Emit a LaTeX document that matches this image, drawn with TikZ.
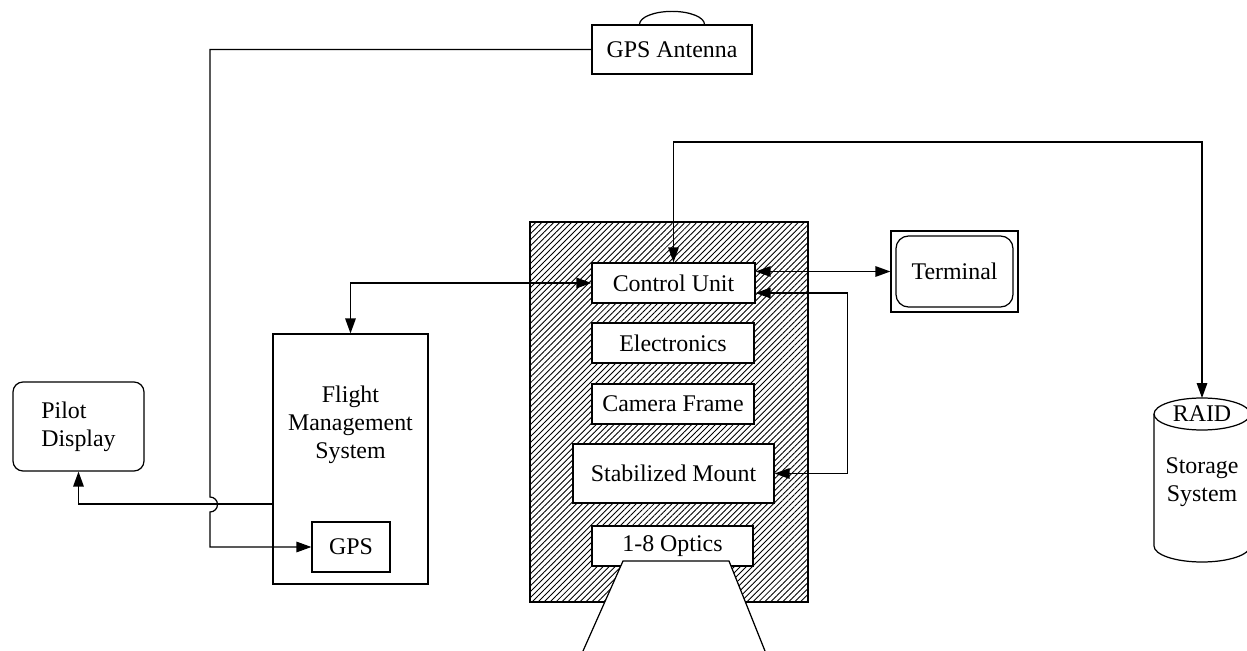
\documentclass[tikz,border=0pt]{standalone}
\usepackage{fontspec}
\setmainfont{Liberation Serif}
\usetikzlibrary{arrows.meta, patterns.meta}

\begin{document}
\begin{tikzpicture}[x=0.02cm, y=-0.02cm, line width=0.7pt,
    every node/.style={font=\fontsize{13.6}{16}\selectfont},
    box/.style={draw, fill=white, inner sep=0pt},
    wh/.style 2 args={minimum width=#1*0.02cm, minimum height=#2*0.02cm},
    tip/.style={-{Triangle[length=8.5pt, width=6pt]}},
    tips/.style={{Triangle[length=8.5pt, width=6pt]}-{Triangle[length=8.5pt, width=6pt]}}]
\useasboundingbox (0,0) rectangle (1247,651);
% Draw camera housing
\draw[pattern={Lines[angle=45, distance=2.4pt, line width=0.5pt]}] (530,222) rectangle (808,602);
% Draw camera parts
\node[box, wh={163}{40}] (cu) at (673.5,283) {Control Unit};
\node[box, wh={162}{40}] (elec) at (673,343) {Electronics};
\node[box, wh={162}{40}] (frame) at (673,404) {Camera Frame};
\node[box, wh={201}{59}] (mount) at (673.5,473.5) {Stabilized Mount};
\node[box, wh={161}{40}] (optics) at (672.5,546) {1-8 Optics};
\draw[fill=white] (583,651) -- (623,561) -- (729,561) -- (765,651);
% Draw flight management system
\node[box, wh={155}{250}] (fms) at (350.5,459) {};
\node[align=center] (fmstext) at (350.5,425) {Flight\\Management\\System};
\node[box, wh={78}{50}] (gps) at (351,547) {GPS};
\node[box, rounded corners=0.2cm, wh={131}{89}, align=left] (pilot) at (78.5,426.5) {Pilot\\Display};
% Draw antenna
\node[box, wh={160}{49}] (ant) at (672,49.5) {GPS Antenna};
\draw (ant.north) ++(-32.5,0) arc[start angle=180, end angle=360, x radius=32.5, y radius=13];
% Draw terminal
\node[box, wh={127}{81}] (term) at (954.5,271.5) {};
\node[box, rounded corners=0.25cm, wh={117}{71}] (screen) at (term) {Terminal};
% Draw storage
\coordinate (raid) at (1202,398);
\draw[fill=white] (1154,414) -- (1154,546) arc[start angle=180, end angle=0, x radius=48, y radius=16] -- (1250,414);
\draw (1202,414) ellipse[x radius=48, y radius=16];
\node (raidtext) at (1202,414) {RAID};
\node[align=center] (storage) at (1202,482) {Storage\\System};
% Draw connections
\coordinate (hop) at (210,497);
\draw[tip] (ant.west) -| (hop) arc[start angle=-90, end angle=90, radius=7.5] |- (gps.west);
\draw[tip] ([yshift=-0.9cm]fms.west) -| (pilot.south);
\draw[tips] (cu.west) -| (fms.north);
\draw[tips] (cu.east |- term.west) -- (term.west);
\draw[tips] ([yshift=-0.2cm]cu.east) -- ++(92,0) |- (mount.east);
\coordinate (raidbend) at (1202,142);
\draw[tips] (cu.north) |- (raidbend) -- (raid);
\end{tikzpicture}
\end{document}
